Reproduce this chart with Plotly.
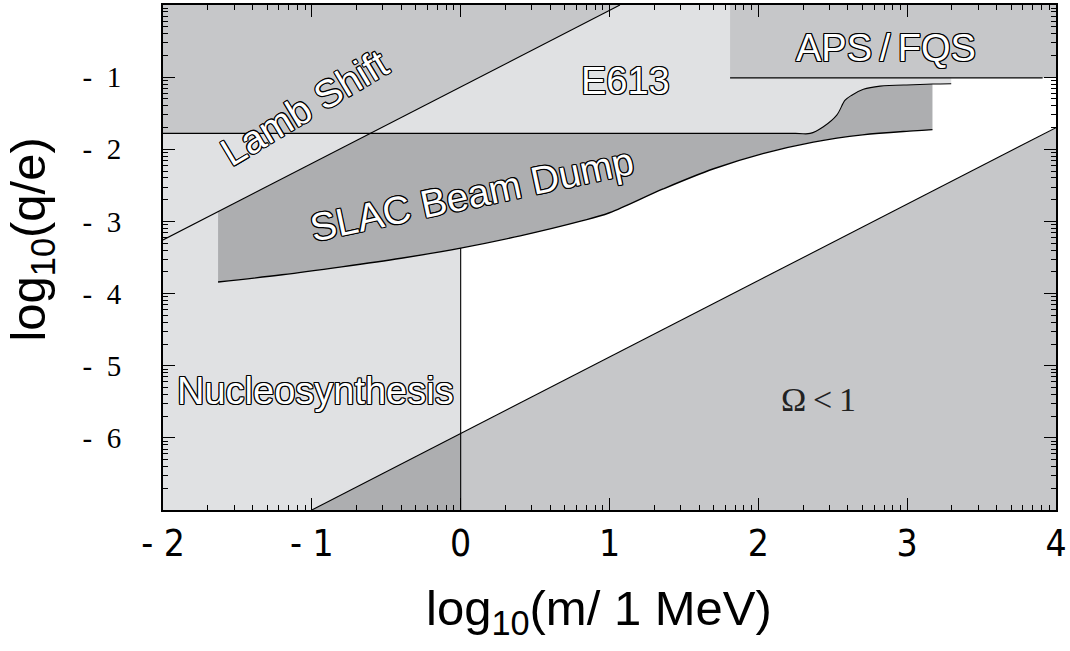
import numpy as np
import plotly.graph_objects as go

# ---- axis ticks -------------------------------------------------------------
x_tick_vals = [-2, -1, 0, 1, 2, 3, 4]
x_tick_text = ["-\u00a02", "-\u00a01", "0", "1", "2", "3", "4"]
y_tick_vals = [-1, -2, -3, -4, -5, -6]
y_tick_text = ["-\u00a0\u00a01", "-\u00a0\u00a02", "-\u00a0\u00a03",
               "-\u00a0\u00a04", "-\u00a0\u00a05", "-\u00a0\u00a06"]

# ---- boundaries (log10 m [MeV], log10 q/e) ---------------------------------
lamb_x = [-2.0, 1.07]
lamb_y = [-3.257, 0.0]

e613_level = -1.78
e613_flat_end = 2.25
e613_curve_x = [2.348, 2.437, 2.527, 2.583, 2.628, 2.706, 2.818, 3.04, 3.17, 3.296]
e613_curve_y = [-1.78, -1.687, -1.526, -1.32, -1.25, -1.169, -1.124, -1.105, -1.096, -1.092]

slac_low_x = [-1.63, -1.2, -0.8, -0.4, 0.0, 0.4, 0.8, 1.0, 1.36, 1.70,
              2.03, 2.37, 2.70, 3.04, 3.17]
slac_low_y = [-3.84, -3.74, -3.63, -3.51, -3.37, -3.20, -3.00, -2.88, -2.55, -2.27,
              -2.06, -1.90, -1.80, -1.745, -1.728]
slac_right_x = 3.17

aps_x = [1.81, 4.0]
aps_y = [-1.01, 0.0]
aps_edge_end = 3.91

nucleo_x_max = 0.0

omega_x = [-1.0, 4.0]
omega_y = [-7.0, -1.70]

X_RANGE = [-2, 4]
Y_RANGE = [-7, 0]

LIGHT = "#e0e1e3"
MID = "#c6c7c9"
DARK = "#adaeb0"

# ---- derived geometry -------------------------------------------------------
lamb_slope = (lamb_y[1] - lamb_y[0]) / (lamb_x[1] - lamb_x[0])
def lamb(x):
    return float(lamb_y[0] + lamb_slope * (x - lamb_x[0]))
lamb_cross = lamb_x[0] + (e613_level - lamb_y[0]) / lamb_slope

omega_slope = (omega_y[1] - omega_y[0]) / (omega_x[1] - omega_x[0])
def omega(x):
    return float(omega_y[0] + omega_slope * (x - omega_x[0]))

n_slac = e613_curve_x.index(slac_right_x) + 1
EPS = 0.01  # keeps spline corners sharp

# E613 lower edge (flat part, then the rise)
e613_edge_x = [X_RANGE[0], e613_flat_end] + e613_curve_x
e613_edge_y = [e613_level, e613_level] + e613_curve_y

# SLAC upper edge: Lamb line, flat E613 level, then the rise
slac_up_x = ([slac_low_x[0], lamb_cross - EPS, lamb_cross, lamb_cross + EPS,
              e613_flat_end] + e613_curve_x[:n_slac])
slac_up_y = ([lamb(slac_low_x[0]), lamb(lamb_cross - EPS), e613_level, e613_level,
              e613_level] + e613_curve_y[:n_slac])

fig = go.Figure()

def region(xs, ys, color):
    fig.add_trace(go.Scatter(x=list(xs), y=list(ys), mode="lines", fill="toself",
                             fillcolor=color, line=dict(width=0), hoverinfo="skip",
                             showlegend=False))

def smooth_path(xs, ys, fill=None, color=None):
    fig.add_trace(go.Scatter(x=list(xs), y=list(ys), mode="lines",
                             fill=fill or "none", fillcolor=color,
                             line=dict(width=0, shape="spline", smoothing=1,
                                       simplify=False),
                             hoverinfo="skip", showlegend=False))

def edge(xs, ys, width=1.1, shape="linear"):
    fig.add_trace(go.Scatter(x=list(xs), y=list(ys), mode="lines",
                             line=dict(color="black", width=width, shape=shape,
                                       smoothing=1, simplify=False),
                             hoverinfo="skip", showlegend=False))

# Nucleosynthesis band
region([X_RANGE[0], nucleo_x_max, nucleo_x_max, X_RANGE[0]],
       [Y_RANGE[0], Y_RANGE[0], Y_RANGE[1], Y_RANGE[1]], LIGHT)

# E613 (between its lower edge and the top of the frame)
smooth_path(e613_edge_x, e613_edge_y)
smooth_path([X_RANGE[0], e613_curve_x[-1]], [Y_RANGE[1], Y_RANGE[1]],
            fill="tonexty", color=LIGHT)

# Lamb shift
region([X_RANGE[0], lamb_cross, lamb_x[1], X_RANGE[0]],
       [e613_level, e613_level, lamb_y[1], Y_RANGE[1]], MID)

# APS / FQS
region([aps_x[0], aps_x[1], aps_x[1], aps_x[0]],
       [aps_y[0], aps_y[0], aps_y[1], aps_y[1]], MID)

# SLAC beam dump (between lower and upper edges)
smooth_path(slac_low_x, slac_low_y)
smooth_path(slac_up_x, slac_up_y, fill="tonexty", color=DARK)

# Omega < 1
region([omega_x[0], omega_x[1], omega_x[1]],
       [omega_y[0], omega_y[1], Y_RANGE[0]], MID)
region([omega_x[0], nucleo_x_max, nucleo_x_max],
       [omega_y[0], omega(nucleo_x_max), Y_RANGE[0]], DARK)

# boundary lines
edge(lamb_x, lamb_y)
edge(e613_edge_x, e613_edge_y, shape="spline")
edge([aps_x[0], aps_edge_end], [aps_y[0], aps_y[0]])
edge(slac_low_x, slac_low_y, 1.4, shape="spline")
slac_at_zero = float(np.interp(nucleo_x_max, slac_low_x, slac_low_y))
edge([nucleo_x_max, nucleo_x_max], [slac_at_zero, Y_RANGE[0]])
edge(omega_x, omega_y)

# ---- labels -----------------------------------------------------------------
OUTLINE = ", ".join(f"{dx}px {dy}px 0 #000" for dx, dy in
                    [(1, 0), (-1, 0), (0, 1), (0, -1), (1, 1), (-1, -1), (1, -1), (-1, 1)])
LABEL_FONT = "Liberation Sans, Arial, sans-serif"

def hollow(text, x, y, angle=0, size=38):
    fig.add_annotation(x=x, y=y, text=text, showarrow=False, textangle=angle,
                       font=dict(family=LABEL_FONT, size=size, color="white",
                                 shadow=OUTLINE),
                       xanchor="center", yanchor="middle")

hollow("Lamb Shift", -1.048, -1.42, angle=-31, size=39)
hollow("SLAC Beam Dump", 0.07, -2.62, angle=-12, size=39)
hollow("E613", 1.109, -1.06)
hollow("APS\u2009/\u2009FQS", 2.857, -0.59)
hollow("Nucleosynthesis", -0.976, -5.35)

fig.add_annotation(x=2.404, y=-5.475, text="\u03a9\u2009<\u20091", showarrow=False,
                   font=dict(family="Liberation Serif, Times New Roman, serif",
                             size=34, color="#222"))

TITLE_FONT = dict(family=LABEL_FONT, size=49, color="black")
fig.add_annotation(xref="paper", yref="paper", x=0.488, y=-0.20,
                   text="log<sub>10</sub>(m/ 1 MeV)", showarrow=False,
                   font=TITLE_FONT, xanchor="center", yanchor="middle")
fig.add_annotation(xref="paper", yref="paper", x=-0.147, y=0.535,
                   text="log<sub>10</sub>(q/e)", showarrow=False, textangle=-90,
                   font=TITLE_FONT, xanchor="center", yanchor="middle")

# ---- axes -------------------------------------------------------------------
x_minor = [d + np.log10(k) for d in range(-2, 4) for k in range(2, 10)]
y_minor = [d + np.log10(k) for d in range(-7, 0) for k in range(2, 10)]

axis_common = dict(showgrid=False, zeroline=False, showline=True, linecolor="black",
                   linewidth=2, mirror="allticks", ticks="inside", ticklen=12,
                   tickwidth=1.3, tickcolor="black", layer="above traces")

fig.update_xaxes(range=X_RANGE, tickmode="array", tickvals=x_tick_vals,
                 ticktext=x_tick_text,
                 tickfont=dict(family="DejaVu Sans Condensed, Liberation Sans Narrow, Liberation Sans, sans-serif",
                               size=37, color="black"),
                 minor=dict(tickmode="array", tickvals=x_minor, ticks="inside",
                            ticklen=5, tickwidth=1, tickcolor="black", showgrid=False),
                 ticklabelstandoff=0,
                 **axis_common)
fig.update_yaxes(range=Y_RANGE, tickmode="array", tickvals=y_tick_vals,
                 ticktext=y_tick_text,
                 tickfont=dict(family="Liberation Serif, Times New Roman, serif",
                               size=29, color="black"),
                 minor=dict(tickmode="array", tickvals=y_minor, ticks="inside",
                            ticklen=5, tickwidth=1, tickcolor="black", showgrid=False),
                 ticklabelstandoff=34,
                 **axis_common)

fig.update_layout(width=1070, height=651, margin=dict(l=163, r=14, t=3, b=141),
                  plot_bgcolor="white", paper_bgcolor="white", showlegend=False)

fig.write_html("out.html")
